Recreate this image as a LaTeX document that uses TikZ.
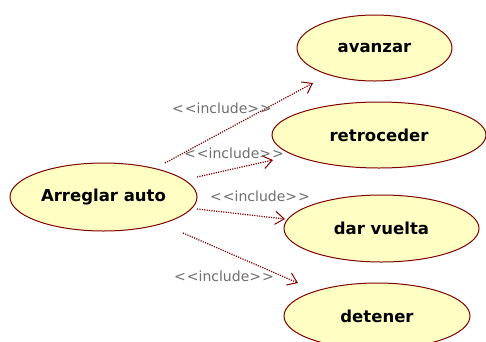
\documentclass[tikz,border=0pt]{standalone}
\usepackage{fontspec}
\setmainfont{DejaVu Sans}
\usetikzlibrary{arrows.meta,shapes.geometric}
\definecolor{ucfill}{RGB}{255,255,196}
\definecolor{ucline}{RGB}{128,0,0}
\definecolor{lblgray}{RGB}{110,110,110}
\tikzset{
  usecase/.style={ellipse, draw=ucline, fill=ucfill, line width=1pt, inner sep=0pt,
     font=\fontsize{16.5}{18}\selectfont\bfseries},
  incl/.style={draw=ucline, line width=1.2pt, dash pattern=on 1.2pt off 1.2pt,
     -{Straight Barb[length=9pt,width=13pt,line width=1pt]}},
  incllbl/.style={text=lblgray, font=\fontsize{14}{16}\selectfont, inner sep=0pt}
}
\newcommand{\incltext}{<\kern1pt<include>\kern1pt>}
\begin{document}
\begin{tikzpicture}[x=1pt,y=-1pt]
\useasboundingbox (0,0) rectangle (486,341);
\node[usecase, minimum width=187pt, minimum height=68pt] (arr) at (103.5,197) {Arreglar auto};
\node[usecase, minimum width=155pt, minimum height=66pt] (ava) at (374.5,48) {avanzar};
\node[usecase, minimum width=214pt, minimum height=66pt] (ret) at (379,135) {retroceder};
\node[usecase, minimum width=195pt, minimum height=67pt] (dar) at (381.5,228.5) {dar vuelta};
\node[usecase, minimum width=186pt, minimum height=66pt] (det) at (377,316) {detener};
\coordinate (s1) at (165,163);
\coordinate (t1) at (313,83);
\coordinate (s2) at (197,177);
\coordinate (t2) at (273,160);
\coordinate (s3) at (197,209);
\coordinate (t3) at (285,219);
\coordinate (s4) at (183,233);
\coordinate (t4) at (298,283);
\draw[incl] (s1) -- (t1);
\draw[incl] (s2) -- (t2);
\draw[incl] (s3) -- (t3);
\draw[incl] (s4) -- (t4);
\node[incllbl] (l1) at (222,108) {\incltext};
\node[incllbl] (l2) at (234,153) {\incltext};
\node[incllbl] (l3) at (260,196) {\incltext};
\node[incllbl] (l4) at (224,276) {\incltext};
\end{tikzpicture}
\end{document}
